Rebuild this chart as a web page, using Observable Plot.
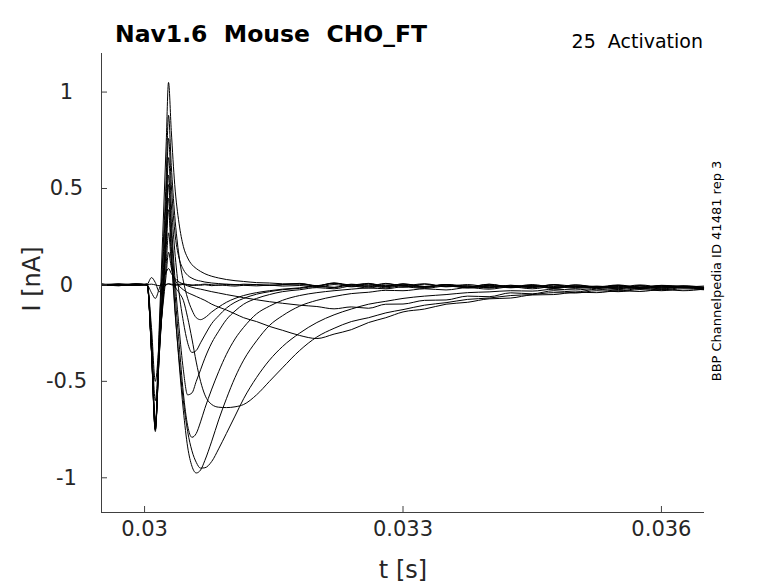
<!DOCTYPE html>
<html><head><meta charset="utf-8">
<script src="https://cdn.jsdelivr.net/npm/d3@7"></script>
<script src="https://cdn.jsdelivr.net/npm/@observablehq/plot@0.6"></script>
<style>body{margin:0;background:#fff;} svg{font-family:"DejaVu Sans",sans-serif;}</style>
</head><body><div id="chart"></div>
<script>
// time samples (s)
const t = [0.0295,0.0297,0.0299,0.03003,0.03008,0.030125,0.03017,0.03021,0.03025,0.030278,
0.03031,0.03035,0.0304,0.03045,0.0305,0.03055,0.0306,0.03065,0.0307,0.03078,0.03086,0.03095,0.03105,0.03115,0.0313,0.03145,0.0316,
0.0318,0.032,0.0322,0.0324,0.0326,0.0328,0.033,0.03325,0.0335,0.03375,0.034,0.03425,0.0345,0.03475,0.035,0.03525,0.0355,0.03575,0.036,0.03625,0.03649];

// currents (nA), one array per sweep
const sweep0 = [0.004,-0.003,0.005,0.002, 0.004,0.0,-0.004,0.002,0.003,0.005,0.001,-0.002,0.003,0.006,0.002,0.0,-0.003,0.002,0.004,0.001,-0.002,0.003,0.0,0.004,0.001,-0.003,0.002, 0.008,-0.004,0.01,-0.006,0.004,-0.01,0.006,-0.008,0.002,-0.012,0.004,-0.01,-0.002,-0.014,0.0,-0.012,-0.004,-0.016,-0.002,-0.01,-0.015];
const sweep1 = [0.002,0.005,-0.002,0.004, 0.038,0.012,-0.035,-0.02,0.0,0.006, 0.004,0.002,-0.001,0.003,0.0,-0.003,0.002,-0.002,0.001,-0.004,0.0,-0.003,-0.006,-0.002,-0.005,-0.001,-0.006, -0.003,-0.012,0.002,-0.01,-0.004,-0.015,-0.003,-0.013,0.0,-0.016,-0.006,-0.012,-0.002,-0.018,-0.008,-0.014,-0.004,-0.02,-0.01,-0.014,-0.02];
const sweep2 = [-0.003,0.004,0.001,-0.002, -0.04,-0.07,-0.02,0.03,0.065,0.085, 0.06,0.035,0.015,0.005,-0.005,-0.012,-0.018,-0.022,-0.027,-0.035,-0.042,-0.05,-0.058,-0.066,-0.077,-0.087,-0.095, -0.105,-0.112,-0.124,-0.114,-0.121,-0.1,-0.099,-0.08,-0.078,-0.058,-0.061,-0.041,-0.046,-0.03,-0.037,-0.022,-0.032,-0.018,-0.026,-0.014,-0.023];
const sweep3 = [0.003,-0.002,0.004,0.0, -0.22,-0.5,-0.3,-0.12,0.05,0.17, 0.09,0.03,-0.005,-0.025,-0.04,-0.05,-0.06,-0.07,-0.08,-0.1,-0.115,-0.13,-0.15,-0.17,-0.19,-0.215,-0.235, -0.262,-0.278,-0.255,-0.232,-0.195,-0.17,-0.14,-0.125,-0.1,-0.09,-0.072,-0.068,-0.052,-0.05,-0.038,-0.04,-0.03,-0.034,-0.024,-0.03,-0.022];
const sweep4 = [-0.002,0.003,0.0,0.005, -0.27,-0.6,-0.33,-0.1,0.1,0.27, 0.12,0.0,-0.04,-0.08,-0.17,-0.28,-0.4,-0.5,-0.57,-0.62,-0.634,-0.636,-0.632,-0.62,-0.57,-0.5,-0.43, -0.34,-0.27,-0.225,-0.19,-0.17,-0.145,-0.128,-0.105,-0.092,-0.075,-0.068,-0.055,-0.05,-0.04,-0.042,-0.03,-0.035,-0.024,-0.03,-0.02,-0.025];
const sweep5 = [0.001,-0.004,0.003,0.002, -0.31,-0.7,-0.37,-0.09,0.18,0.39, 0.15,-0.12,-0.38,-0.6,-0.76,-0.86,-0.92,-0.95,-0.948,-0.915,-0.85,-0.77,-0.68,-0.59,-0.48,-0.39,-0.32, -0.25,-0.195,-0.155,-0.125,-0.1,-0.085,-0.07,-0.058,-0.05,-0.04,-0.036,-0.03,-0.032,-0.022,-0.026,-0.018,-0.024,-0.014,-0.02,-0.012,-0.018];
const sweep6 = [-0.003,0.002,0.005,-0.001, -0.32,-0.72,-0.37,-0.07,0.22,0.45, 0.2,-0.1,-0.4,-0.65,-0.84,-0.94,-0.975,-0.96,-0.91,-0.81,-0.7,-0.59,-0.48,-0.39,-0.29,-0.21,-0.16, -0.11,-0.08,-0.06,-0.045,-0.038,-0.028,-0.03,-0.02,-0.026,-0.014,-0.022,-0.01,-0.02,-0.008,-0.018,-0.012,-0.02,-0.006,-0.016,-0.01,-0.019];
const sweep7 = [0.004,0.0,-0.003,0.003, -0.33,-0.73,-0.36,-0.05,0.27,0.52, 0.28,-0.02,-0.3,-0.56,-0.73,-0.79,-0.77,-0.71,-0.64,-0.54,-0.45,-0.36,-0.28,-0.22,-0.15,-0.11,-0.08, -0.055,-0.04,-0.03,-0.022,-0.016,-0.02,-0.01,-0.018,-0.006,-0.014,-0.004,-0.015,-0.008,-0.017,-0.005,-0.014,-0.008,-0.018,-0.006,-0.012,-0.016];
const sweep8 = [-0.001,0.003,-0.002,0.004, -0.34,-0.75,-0.35,-0.05,0.3,0.57, 0.33,0.05,-0.22,-0.44,-0.57,-0.56,-0.5,-0.44,-0.38,-0.3,-0.24,-0.18,-0.135,-0.1,-0.07,-0.05,-0.035, -0.025,-0.014,-0.02,-0.006,-0.016,-0.002,-0.012,0.004,-0.01,-0.004,-0.016,-0.006,-0.014,0.0,-0.012,-0.008,-0.018,-0.004,-0.016,-0.01,-0.015];
const sweep9 = [0.002,-0.002,0.003,0.001, -0.34,-0.74,-0.32,0.0,0.38,0.66, 0.42,0.18,-0.04,-0.19,-0.3,-0.35,-0.34,-0.3,-0.26,-0.2,-0.16,-0.12,-0.09,-0.07,-0.048,-0.035,-0.025, -0.018,-0.008,-0.014,0.002,-0.01,0.005,-0.006,-0.012,0.0,-0.01,0.003,-0.012,-0.004,-0.015,0.0,-0.01,-0.014,-0.004,-0.012,-0.006,-0.016];
const sweep10 = [-0.002,0.004,0.0,0.002, -0.34,-0.75,-0.26,0.14,0.54,0.88, 0.62,0.36,0.15,0.02,-0.07,-0.13,-0.17,-0.18,-0.17,-0.14,-0.115,-0.09,-0.07,-0.055,-0.04,-0.03,-0.022, -0.015,-0.004,-0.012,0.004,-0.006,0.008,-0.004,0.006,-0.008,0.002,-0.01,-0.002,-0.012,0.002,-0.008,-0.013,-0.002,-0.012,-0.004,-0.01,-0.006];
const sweep11 = [0.005,-0.004,0.006,0.0, -0.35,-0.76,-0.22,0.25,0.72,1.05, 0.8,0.52,0.32,0.2,0.14,0.105,0.085,0.07,0.058,0.045,0.036,0.028,0.022,0.018,0.012,0.01,0.006, 0.004,-0.006,0.008,-0.002,0.006,-0.008,0.004,-0.01,0.002,-0.006,-0.014,-0.002,-0.01,0.0,-0.014,-0.006,-0.012,0.0,-0.01,-0.004,-0.012];
const sweep12 = [0.0,0.003,-0.003,0.001, -0.34,-0.75,-0.29,0.08,0.46,0.76, 0.52,0.28,0.14,0.08,0.05,0.035,0.025,0.02,0.015,0.01,0.007,0.004,0.002,0.0,0.002,-0.001,0.001, 0.006,-0.004,0.01,0.0,0.008,-0.006,0.004,-0.008,0.0,-0.012,-0.002,-0.01,0.002,-0.012,-0.006,-0.01,0.0,-0.014,-0.004,-0.008,-0.012];

const sweeps = [sweep0,sweep1,sweep2,sweep3,sweep4,sweep5,sweep6,sweep7,sweep8,sweep9,sweep10,sweep11,sweep12];

const xTicks = [0.03, 0.033, 0.036];
const xTickLabels = ["0.03", "0.033", "0.036"];
const yTicks = [-1, -0.5, 0, 0.5, 1];
const yTickLabels = ["-1", "-0.5", "0", "0.5", "1"];
const xDomain = [0.0295, 0.0365];
const yDomain = [-1.18, 1.2];

const W = 778, H = 583, mL = 101, mR = 74, mT = 53, mB = 71;
const axisColor = "#404040", textColor = "#262626";

const rows = [];
sweeps.forEach((s, k) => {
  const n = Math.min(s.length, t.length);
  for (let i = 0; i < n; i++) rows.push({t: t[i], I: s[i], k});
});

const plot = Plot.plot({
  width: W, height: H,
  marginLeft: mL, marginRight: mR, marginTop: mT, marginBottom: mB,
  x: {domain: xDomain, axis: null},
  y: {domain: yDomain, axis: null},
  style: {background: "white", fontFamily: "DejaVu Sans, sans-serif", overflow: "visible"},
  marks: [
    Plot.line(rows, {x: "t", y: "I", z: "k", stroke: "black", strokeWidth: 1, curve: "monotone-x"}),
    Plot.ruleX([xDomain[0]], {stroke: axisColor}),
    Plot.ruleY([yDomain[0]], {stroke: axisColor}),
    Plot.ruleX(xTicks, {stroke: axisColor, insetTop: (H - mT - mB) - 6}),
    Plot.ruleY(yTicks, {stroke: axisColor, insetRight: (W - mL - mR) - 6}),
    Plot.text(xTicks, {x: d => d, frameAnchor: "bottom", dy: 23, text: (d, i) => xTickLabels[i], fontSize: 21, fill: textColor}),
    Plot.text(yTicks, {y: d => d, frameAnchor: "left", dx: -35, textAnchor: "middle", text: (d, i) => yTickLabels[i], fontSize: 21, fill: textColor})
  ]
});

const svg = d3.select(plot);
svg.append("text").attr("x", 115).attr("y", 42).attr("font-size", 23.5).attr("font-weight", "bold")
  .attr("text-anchor", "start").attr("fill", "black").style("white-space", "pre").text("Nav1.6  Mouse  CHO_FT");
svg.append("text").attr("x", 703).attr("y", 48).attr("font-size", 19).attr("text-anchor", "end")
  .attr("fill", "black").style("white-space", "pre").text("25  Activation");
svg.append("text").attr("transform", "translate(721,271) rotate(-90)").attr("font-size", 13)
  .attr("text-anchor", "middle").attr("fill", "black").text("BBP Channelpedia ID 41481 rep 3");
svg.append("text").attr("transform", "translate(40,279) rotate(-90)").attr("font-size", 24)
  .attr("text-anchor", "middle").attr("fill", textColor).text("I [nA]");
svg.append("text").attr("x", 403).attr("y", 578).attr("font-size", 24)
  .attr("text-anchor", "middle").attr("fill", textColor).text("t [s]");

document.getElementById("chart").appendChild(plot);
</script>
</body></html>
